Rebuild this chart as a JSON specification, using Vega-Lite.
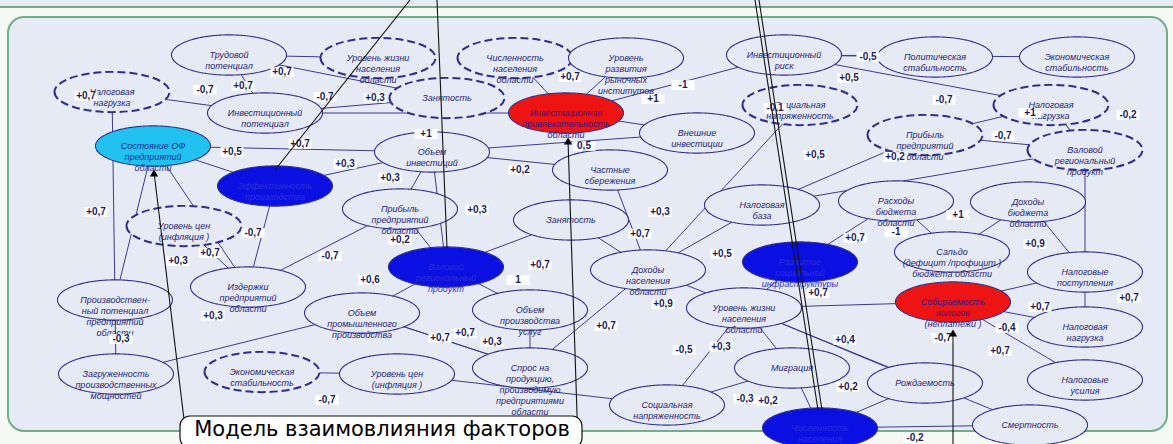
{
  "$schema": "https://vega.github.io/schema/vega-lite/v6.json",
  "width": 1173,
  "height": 444,
  "autosize": {"type": "none"},
  "padding": 0,
  "background": "#f6f8f6",
  "config": {"view": {"stroke": null}},
  "datasets": {
    "frame": [
      {"part": "top", "x": -14, "y": -30, "x2": 1187, "y2": 7},
      {"part": "main", "x": 8, "y": 17, "x2": 1167, "y2": 431}
    ],
    "nodes": [
      {"id": "n1", "x": 229, "y": 55, "kind": "plain", "style": "solid", "label": "Трудовой\nпотенциал"},
      {"id": "n2", "x": 378, "y": 58, "kind": "plain", "style": "dashed", "label": "Уровень жизни\nнаселения\nобласти"},
      {"id": "n3", "x": 515, "y": 58, "kind": "plain", "style": "dashed", "label": "Численность\nнаселения\nобласти"},
      {"id": "n4", "x": 626, "y": 58, "kind": "plain", "style": "solid", "label": "Уровень\nразвития\nрыночных\nинститутов"},
      {"id": "n5", "x": 784, "y": 55, "kind": "plain", "style": "solid", "label": "Инвестиционный\nриск"},
      {"id": "n6", "x": 935, "y": 57, "kind": "plain", "style": "solid", "label": "Политическая\nстабильность"},
      {"id": "n7", "x": 1077, "y": 57, "kind": "plain", "style": "solid", "label": "Экономическая\nстабильность"},
      {"id": "n8", "x": 112, "y": 92, "kind": "plain", "style": "dashed", "label": "Налоговая\nнагрузка"},
      {"id": "n9", "x": 265, "y": 113, "kind": "plain", "style": "solid", "label": "Инвестиционный\nпотенциал"},
      {"id": "n10", "x": 447, "y": 98, "kind": "plain", "style": "dashed", "label": "Занятость"},
      {"id": "n11", "x": 566, "y": 113, "kind": "red", "style": "solid", "label": "Инвестиционная\nпривлекательность\nобласти"},
      {"id": "n12", "x": 800, "y": 105, "kind": "plain", "style": "dashed", "label": "Социальная\nнапряженность"},
      {"id": "n13", "x": 1051, "y": 105, "kind": "plain", "style": "dashed", "label": "Налоговая\nнагрузка"},
      {"id": "n14", "x": 925, "y": 135, "kind": "plain", "style": "dashed", "label": "Прибыль\nпредприятий\nобласти"},
      {"id": "n15", "x": 1085, "y": 150, "kind": "plain", "style": "dashed", "label": "Валовой\nрегиональный\nпродукт"},
      {"id": "n16", "x": 697, "y": 133, "kind": "plain", "style": "solid", "label": "Внешние\nинвестиции"},
      {"id": "n17", "x": 153, "y": 146, "kind": "cyan", "style": "solid", "label": "Состояние ОФ\nпредприятий\nобласти"},
      {"id": "n18", "x": 432, "y": 152, "kind": "plain", "style": "solid", "label": "Объем\nинвестиций"},
      {"id": "n19", "x": 275, "y": 186, "kind": "blue", "style": "solid", "label": "Эффективность\nпроизводства"},
      {"id": "n20", "x": 610, "y": 170, "kind": "plain", "style": "solid", "label": "Частные\nсбережения"},
      {"id": "n21", "x": 762, "y": 205, "kind": "plain", "style": "solid", "label": "Налоговая\nбаза"},
      {"id": "n22", "x": 896, "y": 201, "kind": "plain", "style": "solid", "label": "Расходы\nбюджета\nобласти"},
      {"id": "n23", "x": 1028, "y": 202, "kind": "plain", "style": "solid", "label": "Доходы\nбюджета\nобласти"},
      {"id": "n24", "x": 184, "y": 226, "kind": "plain", "style": "dashed", "label": "Уровень цен\n(инфляция )"},
      {"id": "n25", "x": 400, "y": 209, "kind": "plain", "style": "solid", "label": "Прибыль\nпредприятий\nобласти"},
      {"id": "n26", "x": 571, "y": 220, "kind": "plain", "style": "solid", "label": "Занятость"},
      {"id": "n27", "x": 446, "y": 267, "kind": "blue", "style": "solid", "label": "Валовой\nрегиональный\nпродукт"},
      {"id": "n28", "x": 952, "y": 252, "kind": "plain", "style": "solid", "label": "Сальдо\n(дефицит /профицит )\nбюджета области"},
      {"id": "n29", "x": 248, "y": 287, "kind": "plain", "style": "solid", "label": "Издержки\nпредприятий\nобласти"},
      {"id": "n30", "x": 648, "y": 270, "kind": "plain", "style": "solid", "label": "Доходы\nнаселения\nобласти"},
      {"id": "n31", "x": 800, "y": 262, "kind": "blue", "style": "solid", "label": "Развитие\nсоциальной\nинфраструктуры"},
      {"id": "n32", "x": 1085, "y": 272, "kind": "plain", "style": "solid", "label": "Налоговые\nпоступления"},
      {"id": "n33", "x": 115, "y": 300, "kind": "plain", "style": "solid", "label": "Производствен-\nный потенциал\nпредприятий\nобласти"},
      {"id": "n34", "x": 362, "y": 313, "kind": "plain", "style": "solid", "label": "Объем\nпромышленного\nпроизводства"},
      {"id": "n35", "x": 530, "y": 310, "kind": "plain", "style": "solid", "label": "Объем\nпроизводства\nуслуг"},
      {"id": "n36", "x": 744, "y": 308, "kind": "plain", "style": "solid", "label": "Уровень жизни\nнаселения\nобласти"},
      {"id": "n37", "x": 953, "y": 302, "kind": "red", "style": "solid", "label": "Собираемость\nналогов\n(неплатежи )"},
      {"id": "n38", "x": 1085, "y": 327, "kind": "plain", "style": "solid", "label": "Налоговая\nнагрузка"},
      {"id": "n39", "x": 116, "y": 374, "kind": "plain", "style": "solid", "label": "Загруженность\nпроизводственных\nмощностей"},
      {"id": "n40", "x": 262, "y": 372, "kind": "plain", "style": "dashed", "label": "Экономическая\nстабильность"},
      {"id": "n41", "x": 397, "y": 374, "kind": "plain", "style": "solid", "label": "Уровень цен\n(инфляция )"},
      {"id": "n42", "x": 530, "y": 368, "kind": "plain", "style": "solid", "label": "Спрос на\nпродукцию,\nпроизводимую\nпредприятиями\nобласти"},
      {"id": "n43", "x": 792, "y": 368, "kind": "plain", "style": "solid", "label": "Миграция"},
      {"id": "n44", "x": 925, "y": 383, "kind": "plain", "style": "solid", "label": "Рождаемость"},
      {"id": "n45", "x": 1085, "y": 380, "kind": "plain", "style": "solid", "label": "Налоговые\nусилия"},
      {"id": "n46", "x": 667, "y": 405, "kind": "plain", "style": "solid", "label": "Социальная\nнапряженность"},
      {"id": "n47", "x": 820, "y": 428, "kind": "blue", "style": "solid", "label": "Численность\nнаселения\nобласти"},
      {"id": "n48", "x": 1030, "y": 425, "kind": "plain", "style": "solid", "label": "Смертность"}
    ],
    "edges": [
      {"s": "n8", "t": "n9", "label": "-0,7", "lx": 205, "ly": 90},
      {"s": "n1", "t": "n9", "label": "+0,7", "lx": 243, "ly": 86},
      {"s": "n8", "t": "n33", "label": "+0,7", "lx": 86, "ly": 96},
      {"s": "n2", "t": "n1", "label": "+0,7", "lx": 282, "ly": 72},
      {"s": "n10", "t": "n1", "label": "-0,7", "lx": 325, "ly": 97},
      {"s": "n10", "t": "n9", "label": "+0,3", "lx": 375, "ly": 98},
      {"s": "n9", "t": "n11", "label": "+1", "lx": 426, "ly": 134},
      {"s": "n18", "t": "n17", "label": "+0,7", "lx": 300, "ly": 144},
      {"s": "n17", "t": "n19", "label": "+0,5", "lx": 232, "ly": 152},
      {"s": "n18", "t": "n19", "label": "+0,3", "lx": 345, "ly": 164},
      {"s": "n25", "t": "n18", "label": "+0,3", "lx": 390, "ly": 178},
      {"s": "n18", "t": "n27", "label": "+0,3", "lx": 477, "ly": 210},
      {"s": "n20", "t": "n18", "label": "+0,2", "lx": 520, "ly": 170},
      {"s": "n3", "t": "n11", "label": "+0,7", "lx": 570, "ly": 77},
      {"s": "n4", "t": "n11", "label": "", "lx": 0, "ly": 0},
      {"s": "n5", "t": "n11", "label": "-1", "lx": 683, "ly": 85},
      {"s": "n11", "t": "n16", "label": "+1", "lx": 653, "ly": 99},
      {"s": "n16", "t": "n18", "label": "0,5", "lx": 584, "ly": 146},
      {"s": "n6", "t": "n5", "label": "-0,5", "lx": 868, "ly": 57},
      {"s": "n13", "t": "n5", "label": "+0,5", "lx": 849, "ly": 78},
      {"s": "n7", "t": "n5", "label": "-0,7", "lx": 944, "ly": 100},
      {"s": "n13", "t": "n15", "label": "-0,2", "lx": 1128, "ly": 115},
      {"s": "n13", "t": "n14", "label": "-0,7", "lx": 1003, "ly": 136},
      {"s": "n14", "t": "n15", "label": "+1", "lx": 1030, "ly": 113},
      {"s": "n15", "t": "n21", "label": "+0,2", "lx": 895, "ly": 157},
      {"s": "n14", "t": "n21", "label": "+0,5", "lx": 815, "ly": 155},
      {"s": "n23", "t": "n28", "label": "+1", "lx": 958, "ly": 215},
      {"s": "n22", "t": "n28", "label": "-1", "lx": 896, "ly": 232},
      {"s": "n32", "t": "n23", "label": "+0,9", "lx": 1035, "ly": 244},
      {"s": "n15", "t": "n32", "label": "", "lx": 0, "ly": 0},
      {"s": "n38", "t": "n32", "label": "+0,7", "lx": 1129, "ly": 298},
      {"s": "n37", "t": "n32", "label": "+0,7", "lx": 1040, "ly": 307},
      {"s": "n38", "t": "n37", "label": "-0,4", "lx": 1007, "ly": 328},
      {"s": "n45", "t": "n37", "label": "+0,7", "lx": 1000, "ly": 351},
      {"s": "n36", "t": "n37", "label": "", "lx": 0, "ly": 0},
      {"s": "n36", "t": "n48", "label": "-0,7", "lx": 943, "ly": 338},
      {"s": "n22", "t": "n31", "label": "+0,7", "lx": 855, "ly": 238},
      {"s": "n31", "t": "n36", "label": "+0,7", "lx": 818, "ly": 293},
      {"s": "n30", "t": "n21", "label": "+0,5", "lx": 722, "ly": 254},
      {"s": "n30", "t": "n20", "label": "+0,3", "lx": 660, "ly": 212},
      {"s": "n26", "t": "n30", "label": "+0,7", "lx": 640, "ly": 234},
      {"s": "n30", "t": "n12", "label": "-0,1", "lx": 775, "ly": 108},
      {"s": "n27", "t": "n26", "label": "+0,7", "lx": 540, "ly": 265},
      {"s": "n35", "t": "n27", "label": "1", "lx": 518, "ly": 280},
      {"s": "n34", "t": "n27", "label": "+0,6", "lx": 370, "ly": 280},
      {"s": "n27", "t": "n25", "label": "+0,2", "lx": 400, "ly": 240},
      {"s": "n29", "t": "n25", "label": "-0,7", "lx": 330, "ly": 256},
      {"s": "n19", "t": "n29", "label": "-0,7", "lx": 253, "ly": 233},
      {"s": "n24", "t": "n29", "label": "+0,7", "lx": 210, "ly": 253},
      {"s": "n17", "t": "n29", "label": "+0,3", "lx": 178, "ly": 261},
      {"s": "n17", "t": "n33", "label": "+0,7", "lx": 96, "ly": 212},
      {"s": "n39", "t": "n33", "label": "-0,3", "lx": 121, "ly": 339},
      {"s": "n39", "t": "n34", "label": "+0,3", "lx": 213, "ly": 316},
      {"s": "n34", "t": "n42", "label": "+0,7", "lx": 440, "ly": 338},
      {"s": "n42", "t": "n34", "label": "+0,7", "lx": 465, "ly": 333},
      {"s": "n42", "t": "n35", "label": "+0,3", "lx": 492, "ly": 342},
      {"s": "n30", "t": "n42", "label": "+0,7", "lx": 606, "ly": 326},
      {"s": "n30", "t": "n36", "label": "+0,9", "lx": 663, "ly": 304},
      {"s": "n41", "t": "n40", "label": "-0,7", "lx": 327, "ly": 400},
      {"s": "n41", "t": "n46", "label": "", "lx": 0, "ly": 0},
      {"s": "n36", "t": "n46", "label": "-0,5", "lx": 684, "ly": 350},
      {"s": "n36", "t": "n43", "label": "+0,3", "lx": 721, "ly": 347},
      {"s": "n46", "t": "n43", "label": "-0,3", "lx": 745, "ly": 399},
      {"s": "n43", "t": "n47", "label": "+0,2", "lx": 768, "ly": 401},
      {"s": "n44", "t": "n47", "label": "+0,2", "lx": 848, "ly": 387},
      {"s": "n36", "t": "n44", "label": "+0,4", "lx": 845, "ly": 340},
      {"s": "n48", "t": "n47", "label": "-0,2", "lx": 915, "ly": 438}
    ],
    "callouts": [
      {"x": 410, "y": 0, "x2": 275, "y2": 170},
      {"x": 187, "y": 444, "x2": 154, "y2": 172},
      {"x": 437, "y": 0, "x2": 447, "y2": 248},
      {"x": 578, "y": 444, "x2": 568, "y2": 140},
      {"x": 755, "y": 0, "x2": 818, "y2": 410},
      {"x": 759, "y": 0, "x2": 822, "y2": 410},
      {"x": 953, "y": 444, "x2": 953, "y2": 332}
    ],
    "tips": [
      {"x": 154, "y": 173},
      {"x": 568, "y": 141},
      {"x": 953, "y": 333}
    ],
    "caption": [
      {"x": 180, "y": 416, "x2": 582, "y2": 448, "xc": 382, "yc": 430, "text": "Модель взаимовлияния факторов"}
    ]
  },
  "layer": [
    {
      "data": {"name": "frame"},
      "mark": {"type": "rect", "cornerRadius": 16, "fill": "#e6eaf4", "stroke": "#6fae86", "strokeWidth": 2},
      "encoding": {
        "x": {"field": "x", "type": "quantitative", "scale": {"domain": [0, 1173], "nice": false, "zero": false}, "axis": null},
        "y": {"field": "y", "type": "quantitative", "scale": {"domain": [0, 444], "reverse": true, "nice": false, "zero": false}, "axis": null},
        "x2": {"field": "x2"},
        "y2": {"field": "y2"}
      }
    },
    {
      "data": {"name": "edges"},
      "transform": [
        {"lookup": "s", "from": {"data": {"name": "nodes"}, "key": "id", "fields": ["x", "y"]}, "as": ["sx", "sy"]},
        {"lookup": "t", "from": {"data": {"name": "nodes"}, "key": "id", "fields": ["x", "y"]}, "as": ["tx", "ty"]}
      ],
      "mark": {"type": "rule", "color": "#3b3b8c", "strokeWidth": 1},
      "encoding": {
        "x": {"field": "sx", "type": "quantitative", "scale": {"domain": [0, 1173], "nice": false, "zero": false}, "axis": null},
        "y": {"field": "sy", "type": "quantitative", "scale": {"domain": [0, 444], "reverse": true, "nice": false, "zero": false}, "axis": null},
        "x2": {"field": "tx"},
        "y2": {"field": "ty"}
      }
    },
    {
      "data": {"name": "nodes"},
      "mark": {"type": "point", "filled": true, "opacity": 1, "shape": "M-1,0A1,0.35,0,1,0,1,0A1,0.35,0,1,0,-1,0Z", "size": 13225, "stroke": "#2f2f86"},
      "encoding": {
        "x": {"field": "x", "type": "quantitative", "scale": {"domain": [0, 1173], "nice": false, "zero": false}, "axis": null},
        "y": {"field": "y", "type": "quantitative", "scale": {"domain": [0, 444], "reverse": true, "nice": false, "zero": false}, "axis": null},
        "fill": {"field": "kind", "type": "nominal", "scale": {"domain": ["plain", "red", "blue", "cyan"], "range": ["#e6eaf4", "#ee1414", "#0b10e2", "#22c2f0"]}, "legend": null},
        "strokeDash": {"field": "style", "type": "nominal", "scale": {"domain": ["solid", "dashed"], "range": [[1, 0], [8, 4]]}, "legend": null},
        "strokeWidth": {"field": "style", "type": "nominal", "scale": {"domain": ["solid", "dashed"], "range": [1.1, 2]}, "legend": null}
      }
    },
    {
      "data": {"name": "nodes"},
      "mark": {"type": "text", "font": "Liberation Sans", "fontSize": 9, "fontStyle": "italic", "lineBreak": "\n", "lineHeight": 11, "align": "center", "baseline": "middle"},
      "encoding": {
        "x": {"field": "x", "type": "quantitative", "scale": {"domain": [0, 1173], "nice": false, "zero": false}, "axis": null},
        "y": {"field": "y", "type": "quantitative", "scale": {"domain": [0, 444], "reverse": true, "nice": false, "zero": false}, "axis": null},
        "text": {"field": "label"},
        "color": {"field": "kind", "type": "nominal", "scale": {"domain": ["plain", "red", "blue", "cyan"], "range": ["#1f1f78", "#2a1a8a", "#2e2ed8", "#1a2c96"]}, "legend": null}
      }
    },
    {
      "data": {"name": "edges"},
      "transform": [{"filter": "datum.label !== ''"}],
      "mark": {"type": "point", "filled": true, "opacity": 1, "shape": "M-1,-0.42H1V0.42H-1Z", "size": 529, "color": "#ffffff"},
      "encoding": {
        "x": {"field": "lx", "type": "quantitative", "scale": {"domain": [0, 1173], "nice": false, "zero": false}, "axis": null},
        "y": {"field": "ly", "type": "quantitative", "scale": {"domain": [0, 444], "reverse": true, "nice": false, "zero": false}, "axis": null}
      }
    },
    {
      "data": {"name": "edges"},
      "transform": [{"filter": "datum.label !== ''"}],
      "mark": {"type": "text", "font": "Liberation Sans", "fontSize": 10, "fontWeight": "bold", "color": "#1c1c5a", "align": "center", "baseline": "middle"},
      "encoding": {
        "x": {"field": "lx", "type": "quantitative", "scale": {"domain": [0, 1173], "nice": false, "zero": false}, "axis": null},
        "y": {"field": "ly", "type": "quantitative", "scale": {"domain": [0, 444], "reverse": true, "nice": false, "zero": false}, "axis": null},
        "text": {"field": "label"}
      }
    },
    {
      "data": {"name": "callouts"},
      "mark": {"type": "rule", "color": "#111111", "strokeWidth": 1.1},
      "encoding": {
        "x": {"field": "x", "type": "quantitative", "scale": {"domain": [0, 1173], "nice": false, "zero": false}, "axis": null},
        "y": {"field": "y", "type": "quantitative", "scale": {"domain": [0, 444], "reverse": true, "nice": false, "zero": false}, "axis": null},
        "x2": {"field": "x2"},
        "y2": {"field": "y2"}
      }
    },
    {
      "data": {"name": "tips"},
      "mark": {"type": "point", "shape": "triangle-up", "filled": true, "opacity": 1, "size": 70, "color": "#000000"},
      "encoding": {
        "x": {"field": "x", "type": "quantitative", "scale": {"domain": [0, 1173], "nice": false, "zero": false}, "axis": null},
        "y": {"field": "y", "type": "quantitative", "scale": {"domain": [0, 444], "reverse": true, "nice": false, "zero": false}, "axis": null}
      }
    },
    {
      "data": {"name": "caption"},
      "mark": {"type": "rect", "cornerRadius": 10, "fill": "#ffffff", "stroke": "#111111", "strokeWidth": 1.2},
      "encoding": {
        "x": {"field": "x", "type": "quantitative", "scale": {"domain": [0, 1173], "nice": false, "zero": false}, "axis": null},
        "y": {"field": "y", "type": "quantitative", "scale": {"domain": [0, 444], "reverse": true, "nice": false, "zero": false}, "axis": null},
        "x2": {"field": "x2"},
        "y2": {"field": "y2"}
      }
    },
    {
      "data": {"name": "caption"},
      "mark": {"type": "text", "font": "DejaVu Sans", "fontSize": 21, "color": "#000000", "align": "center", "baseline": "middle"},
      "encoding": {
        "x": {"field": "xc", "type": "quantitative", "scale": {"domain": [0, 1173], "nice": false, "zero": false}, "axis": null},
        "y": {"field": "yc", "type": "quantitative", "scale": {"domain": [0, 444], "reverse": true, "nice": false, "zero": false}, "axis": null},
        "text": {"field": "text"}
      }
    }
  ]
}
